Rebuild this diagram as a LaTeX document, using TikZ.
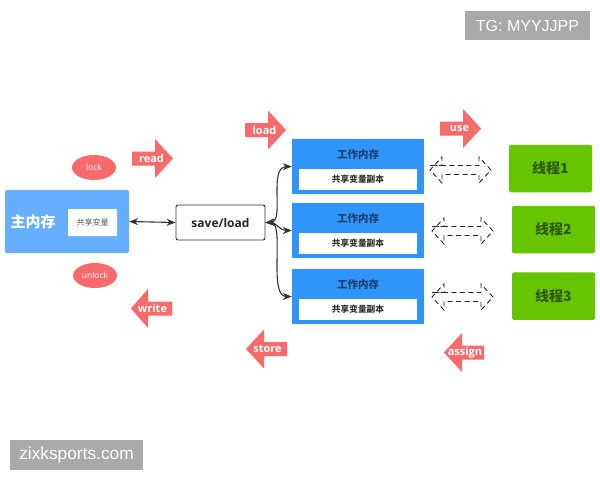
\documentclass[tikz,border=0pt]{standalone}
\usepackage{fontspec}
\setmainfont{Liberation Sans}
\newfontfamily\cjk{Noto Sans CJK SC}
\newfontfamily\labelfont{Open Sans}
\usetikzlibrary{arrows.meta}
\definecolor{redc}{HTML}{F96B6B}
\definecolor{mainc}{HTML}{66AEFF}
\definecolor{workc}{HTML}{3095FB}
\definecolor{greenc}{HTML}{66C500}
\definecolor{inkc}{HTML}{333333}
\definecolor{navyc}{HTML}{1D3F73}
\definecolor{leafc}{HTML}{2C5A05}
\definecolor{markc}{HTML}{A9A9A9}
\tikzset{
  redfill/.style={fill=redc,draw=none},
  oplabel/.style={text=white,font=\labelfont\bfseries\fontsize{11}{12}\selectfont,inner sep=0pt},
  ovaltext/.style={text=white,font=\labelfont\fontsize{8.5}{10}\selectfont,inner sep=0pt},
  workbox/.style={fill=workc,draw=none,minimum width=132pt,minimum height=55pt,inner sep=0pt},
  workinner/.style={fill=white,draw=none,minimum width=118pt,minimum height=21pt,inner sep=0pt,text=inkc,font=\cjk\bfseries\fontsize{8.7}{10}\selectfont},
  worktitle/.style={text=navyc,font=\cjk\bfseries\fontsize{10.5}{12}\selectfont,inner sep=0pt},
  threadbox/.style={fill=greenc,draw=none,rounded corners=1.5pt,minimum width=83pt,minimum height=47.5pt,inner sep=0pt,text=leafc,font=\cjk\bfseries\fontsize{14}{16}\selectfont},
  link/.style={draw=inkc,line width=1.1pt,{Stealth[length=9pt,width=7pt]}-{Stealth[length=9pt,width=7pt]}},
  dashshape/.style={draw=black!85,line width=0.9pt,dash pattern=on 5pt off 3.5pt,fill=white},
  wmark/.style={fill=markc,draw=none,text=white,inner sep=0pt,font=\fontsize{16}{18}\selectfont}
}
% block arrow: tail x, centre y, base of head x, tip x, label, name
\newcommand{\rightblock}[6]{%
  \fill[redfill] (#1,#2-7) -- (#3,#2-7) -- (#3,#2-19.5) -- (#4,#2) -- (#3,#2+19.5) -- (#3,#2+7) -- (#1,#2+7) -- cycle;
  \node[oplabel] (#6) at (#1/2+#4/2-1,#2) {#5};}
\newcommand{\leftblock}[6]{%
  \fill[redfill] (#1,#2-7) -- (#3,#2-7) -- (#3,#2-19.5) -- (#4,#2) -- (#3,#2+19.5) -- (#3,#2+7) -- (#1,#2+7) -- cycle;
  \node[oplabel] (#6) at (#1/2+#4/2+1,#2) {#5};}
\newcommand{\dashdouble}[2]{%
  \draw[dashshape] (#1,#2-4.5) -- (#1+12,#2-4.5) -- (#1+12,#2-13) -- (#1,#2) -- (#1+12,#2+13) -- (#1+12,#2+4.5) -- (#1+49,#2+4.5) -- (#1+49,#2+13) -- (#1+61,#2) -- (#1+49,#2-13) -- (#1+49,#2-4.5) -- cycle;}
\begin{document}
\begin{tikzpicture}[x=1pt,y=-1pt]
\useasboundingbox (0,0) rectangle (600,480);
\fill[white] (0,0) rectangle (600,480);
% main memory
\node[fill=mainc,draw=none,rounded corners=1.5pt,minimum width=124pt,minimum height=63pt,inner sep=0pt] (main) at (67,221.5) {};
\node[text=white,font=\cjk\bfseries\fontsize{15}{17}\selectfont,inner sep=0pt] (maintitle) at (33,222) {主内存};
\node[fill=white,rounded corners=1pt,minimum width=49pt,minimum height=27pt,inner sep=0pt,text=black!65,font=\cjk\fontsize{8}{10}\selectfont] (mainvar) at (92.5,222.5) {共享变量};
% ellipses
\fill[redc] (94,167.5) ellipse [x radius=22,y radius=12.5];
\node[ovaltext] (lock) at (94,167.5) {lock};
\fill[redc] (95,275.5) ellipse [x radius=22,y radius=12.5];
\node[ovaltext] (unlock) at (95,275.5) {unlock};
% save/load
\node[fill=white,draw=inkc,line width=0.9pt,rounded corners=2pt,minimum width=89pt,minimum height=35pt,inner sep=0pt,text=black!85,font=\labelfont\bfseries\fontsize{12}{13}\selectfont] (sl) at (220.5,222.5) {save/load};
% work memories
\foreach \n/\yy in {a/166.5,b/230.5,c/296.5}{
  \node[workbox] (w\n) at (358,\yy) {};
  \node[worktitle] (wt\n) at (358,\yy-11.5) {工作内存};
  \node[workinner] (wi\n) at (358,\yy+13) {共享变量副本};
}
% threads
\node[threadbox] (t1) at (550.5,168.5) {线程1};
\node[threadbox] (t2) at (553.5,229.5) {线程2};
\node[threadbox] (t3) at (553.5,296) {线程3};
% connectors
\draw[link] (main.east) -- (sl.west);
\draw[link] (sl.east) .. controls (285,222) and (268,167) .. (wa.west);
\draw[link] (sl.east) .. controls (275,222) and (280,230.5) .. (wb.west);
\draw[link] (sl.east) .. controls (285,222) and (268,296.5) .. (wc.west);
% dashed double arrows
\dashdouble{430}{170}
\dashdouble{432}{231}
\dashdouble{432}{297}
% block arrows
\rightblock{132}{158.5}{155}{173}{read}{read}
\rightblock{245}{130}{268}{286}{load}{load}
\rightblock{440}{128.5}{463}{481}{use}{use}
\leftblock{172}{308.5}{148}{131}{write}{write}
\leftblock{287}{349}{264}{246}{store}{store}
\leftblock{484}{352.5}{462}{444}{assign}{assign}
% watermarks
\node[wmark,minimum width=125pt,minimum height=29pt] (tg) at (527.5,25.5) {TG: MYYJJPP};
\node[wmark,minimum width=133pt,minimum height=30pt,font=\fontsize{17.3}{19}\selectfont] (zk) at (76.5,455) {zixksports.com};
\end{tikzpicture}
\end{document}
